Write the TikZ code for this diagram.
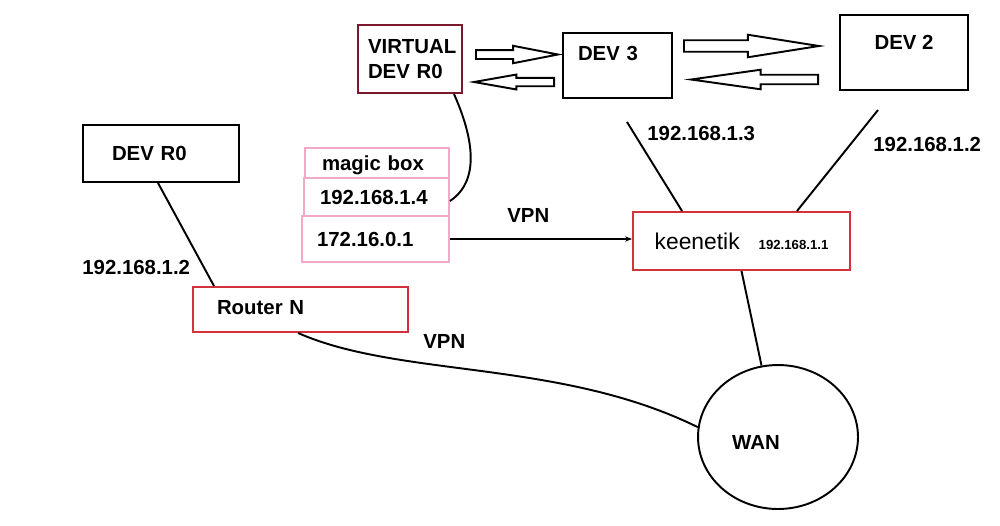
\documentclass[tikz,border=0pt]{standalone}
\usepackage{fontspec}
\setmainfont{Liberation Sans}
\usetikzlibrary{positioning,arrows.meta,shapes.geometric,shapes.arrows,calc}

\definecolor{vdevred}{RGB}{125,25,45}
\definecolor{routerred}{RGB}{210,50,60}
\definecolor{magicpink}{RGB}{240,170,200}

\begin{document}
\begin{tikzpicture}[
x=0.02cm,y=-0.02cm,
box/.style={draw,line width=1.1pt,rectangle,align=left,inner ysep=0pt,font=\bfseries\fontsize{11.6}{14}\selectfont},
oneline/.style={text height=0.29cm,text depth=#1},
oneline/.default=0cm,
lbl/.style={inner sep=0pt,anchor=west,text height=0.29cm,text depth=0cm,font=\bfseries\fontsize{11.6}{14}\selectfont},
fatarrow/.style={draw,line width=1.1pt,single arrow,single arrow head indent=0pt,fill=white,anchor=tail},
link/.style={line width=1.1pt},
>=Stealth]
\useasboundingbox (0,0) rectangle (1000,525);

% devices on top
\node[box,draw=vdevred,minimum width=2.08cm,minimum height=1.36cm,inner xsep=0.2cm,text width=1.68cm] (virt) at (410,59) {VIRTUAL\\DEV R0};
\node[box,oneline=0.5cm,minimum width=2.18cm,minimum height=1.3cm,inner xsep=0.3cm,text width=1.58cm] (dev3) at (617.5,65.5) {DEV 3};
\node[box,oneline=0.42cm,align=center,minimum width=2.56cm,minimum height=1.5cm] (dev2) at (904,52.5) {DEV 2};
\node[box,oneline,minimum width=3.12cm,minimum height=1.14cm,inner xsep=0.58cm,text width=1.96cm] (devr0) at (161,153.5) {DEV R0};

% block arrows
\node[fatarrow,minimum height=1.64cm,inner sep=0.07cm,single arrow head extend=0.085cm,single arrow tip angle=22] (fwd1) at (475,54.5) {};
\node[fatarrow,shape border rotate=180,minimum height=1.6cm,inner sep=0.065cm,single arrow head extend=0.065cm,single arrow tip angle=20] (back1) at (555,82) {};
\node[fatarrow,minimum height=2.7cm,inner sep=0.096cm,single arrow head extend=0.11cm,single arrow tip angle=18] (fwd2) at (683,46) {};
\node[fatarrow,shape border rotate=180,minimum height=2.54cm,inner sep=0.076cm,single arrow head extend=0.1cm,single arrow tip angle=16] (back2) at (819,79.5) {};

% magic box
\node[box,oneline,draw=magicpink,minimum width=2.88cm,minimum height=0.6cm,inner xsep=0.34cm,text width=2.2cm] (magic) at (377,163) {magic box};
\node[box,oneline,draw=magicpink,minimum width=2.9cm,minimum height=0.76cm,inner xsep=0.32cm,text width=2.26cm] (mlan) at (376.5,197) {192.168.1.4};
\node[box,oneline,draw=magicpink,minimum width=2.94cm,minimum height=0.92cm,inner xsep=0.3cm,text width=2.34cm] (mvpn) at (375.5,239) {172.16.0.1};

% routers and wan
\node[box,draw=routerred,align=center,text height=0.33cm,text depth=0cm,font=\fontsize{13}{15}\selectfont,minimum width=4.34cm,minimum height=1.16cm] (keen) at (741.5,241) {keenetik\hspace{0.38cm}{\bfseries\fontsize{7.5}{9}\selectfont 192.168.1.1}};
\node[box,oneline=0.1cm,draw=routerred,minimum width=4.3cm,minimum height=0.9cm,inner xsep=0.48cm,text width=3.34cm] (router) at (300.5,309.5) {Router N};
\node[draw,line width=1.1pt,ellipse,minimum width=3.2cm,minimum height=2.88cm,inner sep=0pt,
  label={[font=\bfseries\fontsize{11.6}{14}\selectfont,text height=0.29cm,text depth=0cm,inner sep=0pt,xshift=-0.44cm,yshift=-0.1cm]center:WAN}] (wan) at (778,437) {};

% addresses
\node[lbl] (ip3) at (647,133) {192.168.1.3};
\node[lbl] (ip2r) at (873,144) {192.168.1.2};
\node[lbl] (ip2l) at (82,267) {192.168.1.2};
\node[lbl] (vpntop) at (507,215) {VPN};
\node[lbl] (vpnlow) at (423,341) {VPN};

% links
\coordinate (d3top) at (627,122);
\coordinate (d2top) at (878,110);
\draw[link] ([xshift=-0.18cm]virt.south east) .. controls +(20,45) and +(30,-20) .. ([yshift=-0.08cm]mlan.east);
\draw[link,-{Stealth[length=4pt,width=3pt]}] (mvpn.east) -- (mvpn.east -| keen.west);
\draw[link] (d3top) -- ([xshift=1cm]keen.north west);
\draw[link] (d2top) -- ([xshift=-1.08cm]keen.north east);
\draw[link] ([xshift=-0.06cm]devr0.south) -- ([xshift=0.44cm]router.north west);
\draw[link] ([xshift=-0.05cm]router.south) .. controls +(102,45) and +(-138,-68) .. (wan.173);
\draw[link] (keen.south) -- (wan.103);
\end{tikzpicture}
\end{document}
